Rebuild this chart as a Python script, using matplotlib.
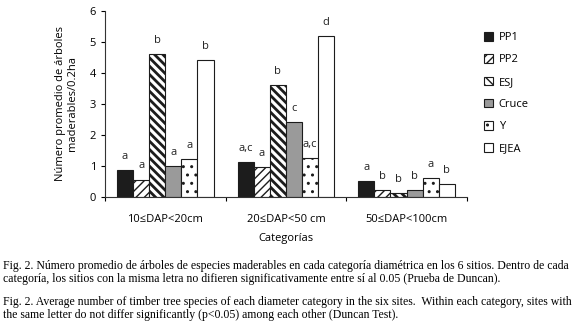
import numpy as np
import matplotlib
matplotlib.use("Agg")
import matplotlib.pyplot as plt

# Data
categories = ["10≤DAP<20cm", "20≤DAP<50 cm", "50≤DAP<100cm"]
sites = ["PP1", "PP2", "ESJ", "Cruce", "Y", "EJEA"]
pp1 = [0.88, 1.13, 0.52]
pp2 = [0.56, 0.96, 0.22]
esj = [4.61, 3.62, 0.13]
cruce = [1.0, 2.41, 0.22]
y_site = [1.22, 1.24, 0.62]
ejea = [4.41, 5.2, 0.42]
letters = [
    ["a", "a,c", "a"],
    ["a", "a", "b"],
    ["b", "b", "b"],
    ["a", "c", "b"],
    ["a", "a,c", "a"],
    ["b", "d", "b"],
]
values = [pp1, pp2, esj, cruce, y_site, ejea]

caption_es = [
    "Fig. 2. Número promedio de árboles de especies maderables en cada categoría diamétrica en los 6 sitios. Dentro de cada",
    "categoría, los sitios con la misma letra no difieren significativamente entre sí al 0.05 (Prueba de Duncan).",
]
caption_en = [
    "Fig. 2. Average number of timber tree species of each diameter category in the six sites.  Within each category, sites with",
    "the same letter do not differ significantly (p<0.05) among each other (Duncan Test).",
]

# Styles
colors = ["#1c1c1c", "white", "white", "#9a9a9a", "white", "white"]
hatches = [None, "////", "\\\\\\\\", None, "..", None]
hatch_lw = [1.0, 1.0, 2.0, 1.0, 1.0, 1.0]

plt.rcParams["font.family"] = ["Open Sans", "DejaVu Sans"]
plt.rcParams["hatch.linewidth"] = 1.0

fig = plt.figure(figsize=(5.8, 3.32), dpi=100)
ax = fig.add_axes([0.181, 0.407, 0.624, 0.56])

x = np.arange(len(categories)) + 0.5
width = 0.8 / len(sites)
for i, (name, vals) in enumerate(zip(sites, values)):
    pos = x - 0.4 + width * (i + 0.5)
    bars = ax.bar(pos, vals, width, color=colors[i], edgecolor="#1c1c1c",
                  hatch=hatches[i], linewidth=0.8, label=name)
    for b in bars:
        if hasattr(b, "set_hatch_linewidth"):
            b.set_hatch_linewidth(hatch_lw[i])
    for p, v, t in zip(pos, vals, letters[i]):
        ax.text(p, v + 0.26, t, ha="center", va="bottom", fontsize=8, color="#222222")

ax.set_xlim(0, 3)
ax.set_ylim(0, 6)
ax.set_yticks(range(7))
ax.set_xticks([0, 1, 2, 3])
ax.set_xticklabels([])
ax.set_xticks(x, minor=True)
ax.set_xticklabels(categories, minor=True)
ax.tick_params(axis="x", which="minor", length=0, pad=12, labelsize=8)
ax.tick_params(axis="x", which="major", length=3, direction="out", width=0.8)
ax.tick_params(axis="y", length=3, labelsize=8, width=0.8)
for s in ["top", "right"]:
    ax.spines[s].set_visible(False)
for s in ["left", "bottom"]:
    ax.spines[s].set_linewidth(0.8)
    ax.spines[s].set_color("#333333")

ax.set_ylabel("Número promedio de árboles\nmaderables/0.2ha", fontsize=8, labelpad=8)
ax.set_xlabel("Categorías", fontsize=8, labelpad=6)

ax.legend(loc="upper left", bbox_to_anchor=(1.02, 0.94), frameon=False,
          fontsize=8, handlelength=0.8, handleheight=0.8, labelspacing=1.0,
          handletextpad=0.5)

serif = ["Liberation Serif", "DejaVu Serif"]
for k, line in enumerate(caption_es):
    fig.text(0.006, 1 - (266 + 13 * k) / 332, line, family=serif, fontsize=8.5,
             va="center", ha="left")
for k, line in enumerate(caption_en):
    fig.text(0.006, 1 - (302 + 13 * k) / 332, line, family=serif, fontsize=8.5,
             va="center", ha="left")

fig.savefig("out.png", dpi=100)
